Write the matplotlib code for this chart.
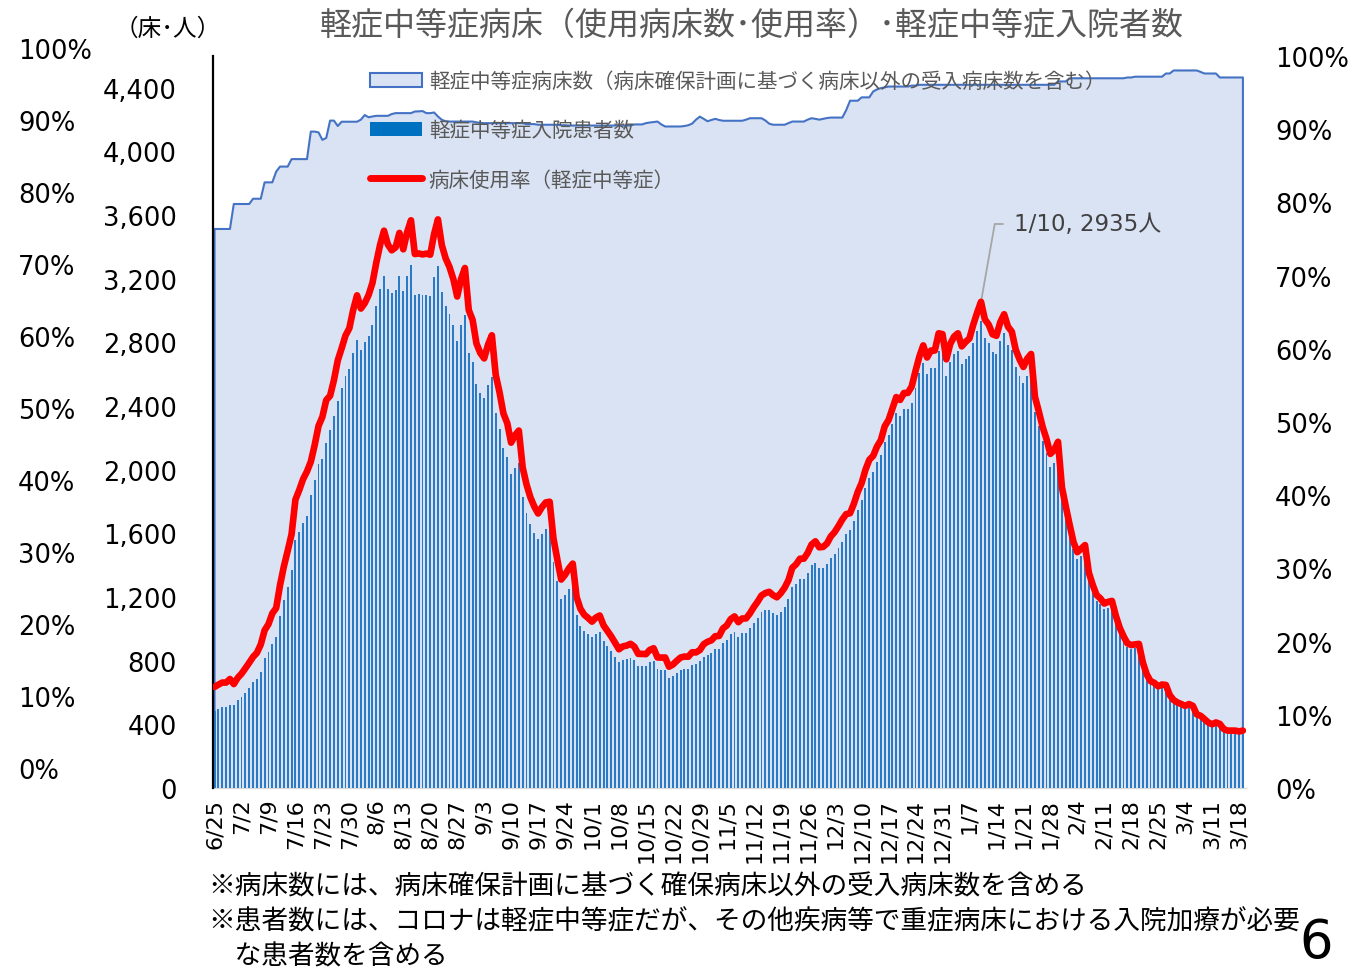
import numpy as np
import matplotlib
matplotlib.use('Agg')
import matplotlib.pyplot as plt
from matplotlib.patches import Patch
from matplotlib.lines import Line2D

# ---------------- data (daily, 6/25 .. 3/19) ----------------
beds = [
    3513, 3513, 3513, 3513, 3513, 3670, 3670, 3670, 3670, 3670,
    3703, 3703, 3703, 3806, 3806, 3806, 3873, 3905, 3905, 3905,
    3952, 3952, 3952, 3952, 3952, 4125, 4125, 4120, 4073, 4085,
    4194, 4194, 4160, 4187, 4187, 4187, 4187, 4187, 4200, 4229,
    4215, 4220, 4224, 4224, 4224, 4224, 4235, 4241, 4241, 4241,
    4241, 4241, 4251, 4252, 4254, 4241, 4241, 4245, 4220, 4199,
    4190, 4188, 4188, 4188, 4188, 4188, 4188, 4188, 4183, 4180,
    4178, 4178, 4178, 4178, 4178, 4178, 4178, 4178, 4178, 4178,
    4178, 4172, 4172, 4172, 4168, 4168, 4168, 4168, 4168, 4168,
    4165, 4165, 4163, 4163, 4163, 4163, 4163, 4163, 4163, 4163,
    4163, 4163, 4163, 4163, 4163, 4163, 4163, 4163, 4163, 4170,
    4170, 4170, 4178, 4182, 4185, 4188, 4170, 4157, 4157, 4157,
    4157, 4157, 4160, 4165, 4175, 4200, 4219, 4205, 4190, 4198,
    4205, 4198, 4193, 4193, 4193, 4193, 4193, 4193, 4200, 4209,
    4209, 4209, 4209, 4195, 4175, 4168, 4168, 4168, 4168, 4178,
    4188, 4188, 4188, 4188, 4200, 4209, 4205, 4200, 4205, 4210,
    4213, 4213, 4213, 4213, 4260, 4319, 4319, 4319, 4340, 4340,
    4340, 4377, 4390, 4398, 4403, 4408, 4408, 4408, 4408, 4408,
    4408, 4414, 4414, 4419, 4419, 4419, 4419, 4419, 4419, 4419,
    4419, 4419, 4419, 4419, 4419, 4419, 4419, 4419, 4419, 4419,
    4419, 4419, 4419, 4419, 4419, 4419, 4419, 4419, 4419, 4419,
    4419, 4419, 4419, 4419, 4419, 4419, 4419, 4419, 4419, 4440,
    4440, 4440, 4460, 4460, 4460, 4460, 4460, 4460, 4460, 4460,
    4460, 4460, 4460, 4460, 4460, 4460, 4460, 4465, 4465, 4470,
    4470, 4470, 4470, 4470, 4470, 4470, 4470, 4490, 4490, 4509,
    4509, 4509, 4509, 4509, 4509, 4509, 4500, 4490, 4490, 4490,
    4490, 4465, 4465, 4465, 4465, 4465, 4465, 4465,
]

patients = [
    485, 496, 506, 506, 523, 521, 552, 573, 600, 628,
    663, 684, 726, 820, 852, 908, 952, 1082, 1182, 1266,
    1370, 1557, 1609, 1668, 1709, 1839, 1933, 2038, 2065, 2165,
    2247, 2337, 2431, 2515, 2588, 2630, 2735, 2818, 2751, 2801,
    2839, 2912, 3032, 3136, 3216, 3136, 3111, 3132, 3216, 3121,
    3220, 3289, 3101, 3105, 3101, 3096, 3090, 3212, 3278, 3115,
    3032, 2981, 2912, 2812, 2912, 2975, 2735, 2678, 2540, 2484,
    2452, 2530, 2584, 2358, 2258, 2138, 2082, 1971, 2013, 2040,
    1829, 1730, 1657, 1605, 1563, 1599, 1626, 1630, 1420, 1301,
    1186, 1213, 1249, 1276, 1086, 1019, 985, 967, 946, 969,
    981, 925, 893, 862, 826, 789, 805, 810, 820, 805,
    764, 764, 764, 789, 799, 747, 743, 741, 689, 701,
    722, 741, 747, 747, 774, 778, 795, 826, 837, 847,
    872, 872, 914, 931, 967, 983, 950, 971, 973, 1004,
    1040, 1071, 1107, 1117, 1119, 1098, 1086, 1109, 1140, 1186,
    1260, 1280, 1312, 1312, 1349, 1400, 1417, 1381, 1385, 1406,
    1448, 1473, 1508, 1546, 1594, 1621, 1678, 1747, 1808, 1887,
    1946, 1986, 2048, 2090, 2176, 2216, 2285, 2354, 2337, 2379,
    2379, 2421, 2515, 2605, 2672, 2599, 2641, 2641, 2745, 2740,
    2588, 2680, 2725, 2745, 2666, 2693, 2714, 2798, 2870, 2935,
    2829, 2797, 2739, 2730, 2812, 2860, 2785, 2755, 2647, 2588,
    2542, 2592, 2620, 2362, 2274, 2180, 2107, 2017, 2040, 2100,
    1825, 1709, 1605, 1500, 1437, 1458, 1480, 1312, 1238, 1176,
    1155, 1124, 1134, 1140, 1050, 977, 925, 883, 872, 877,
    880, 768, 695, 653, 642, 621, 632, 632, 570, 542,
    527, 517, 506, 517, 506, 454, 444, 423, 402, 391,
    402, 391, 360, 350, 350, 350, 345, 350,
]

tick_labels = ['6/25', '7/2', '7/9', '7/16', '7/23', '7/30', '8/6', '8/13', '8/20',
               '8/27', '9/3', '9/10', '9/17', '9/24', '10/1', '10/8', '10/15', '10/22',
               '10/29', '11/5', '11/12', '11/19', '11/26', '12/3', '12/10', '12/17',
               '12/24', '12/31', '1/7', '1/14', '1/21', '1/28', '2/4', '2/11', '2/18',
               '2/25', '3/4', '3/11', '3/18']

left_ticks = [0, 400, 800, 1200, 1600, 2000, 2400, 2800, 3200, 3600, 4000, 4400]
pct_ticks = [0, 10, 20, 30, 40, 50, 60, 70, 80, 90, 100]

peak_day = 199
peak_label = '1/10, 2935人'

title = '軽症中等症病床（使用病床数･使用率）･軽症中等症入院者数'
unit_label = '（床･人）'
legend_labels = ['軽症中等症病床数（病床確保計画に基づく病床以外の受入病床数を含む）',
                 '軽症中等症入院患者数',
                 '病床使用率（軽症中等症）']
notes = ['※病床数には、病床確保計画に基づく確保病床以外の受入病床数を含める',
         '※患者数には、コロナは軽症中等症だが、その他疾病等で重症病床における入院加療が必要',
         '　な患者数を含める']
page_no = '6'

# ---------------- drawing ----------------
CJK = ['Noto Sans CJK JP', 'DejaVu Sans']
LAT = ['DejaVu Sans', 'Noto Sans CJK JP']
plt.rcParams['font.family'] = LAT

W, H = 1350, 970
fig = plt.figure(figsize=(W / 100, H / 100), dpi=100)
fig.patch.set_facecolor('white')

ax = fig.add_axes([213 / W, (H - 789) / H, (1246 - 213) / W, (789 - 57) / H])
days = np.arange(len(patients))
beds_a = np.array(beds, dtype=float)
pat_a = np.array(patients, dtype=float)
rate = pat_a / beds_a * 100

ax.fill_between(days, beds_a, 0, color='#DAE3F3', lw=0, zorder=1)
ax.plot(np.r_[days[0], days, days[-1]], np.r_[0, beds_a, 0],
        color='#4472C4', lw=1.5, zorder=2)
ax.bar(days, pat_a, width=0.5, color='#2A7AC6', lw=0, zorder=3)

ax.set_xlim(-0.4, len(days) - 0.2)
ax.set_ylim(0, 4600)
ax.set_yticks(left_ticks)
ax.set_yticklabels([f'{v:,}' for v in left_ticks], fontsize=18.5)
ax.tick_params(axis='y', length=0, pad=26)
ax.set_xticks(days[::7])
ax.set_xticklabels(tick_labels, rotation=90, fontsize=16)
ax.tick_params(axis='x', length=0, pad=7)
for s in ['top', 'right']:
    ax.spines[s].set_visible(False)
ax.spines['left'].set_color('black')
ax.spines['left'].set_linewidth(1.6)
ax.spines['left'].set_zorder(6)
ax.spines['bottom'].set_color('#D9D9D9')
ax.spines['bottom'].set_linewidth(1.0)

ax2 = ax.twinx()
ax2.plot(days, rate, color='#FF0000', lw=4.8, solid_joinstyle='round',
         solid_capstyle='round', zorder=5)
ax2.set_ylim(0, 100)
ax2.set_yticks(pct_ticks)
ax2.set_yticklabels([f'{v}%' for v in pct_ticks], fontsize=18.5)
ax2.tick_params(axis='y', length=0, pad=21)
for s in ax2.spines.values():
    s.set_visible(False)

# annotation for the peak
ax2.annotate('', xy=(peak_day, rate[peak_day]), xycoords='data',
             xytext=(1003 / W, 1 - 225 / H), textcoords='figure fraction',
             arrowprops=dict(arrowstyle='-', color='#A6A6A6', lw=1.3,
                             shrinkA=0, shrinkB=0,
                             connectionstyle='angle,angleA=0,angleB=80,rad=0'))
fig.text(1014 / W, 1 - 225 / H, peak_label, fontsize=16.5, color='#404040',
         ha='left', va='center', family=LAT)

# legend
handles = [Patch(facecolor='#DAE3F3', edgecolor='#4472C4', lw=1.5),
           Patch(facecolor='#0070C0', edgecolor='none'),
           Line2D([0], [0], color='#FF0000', lw=5, solid_capstyle='round')]
leg = ax2.legend(handles, legend_labels, loc='upper left',
                 bbox_to_anchor=(360 / W, 1 - 61 / H), bbox_transform=fig.transFigure,
                 frameon=False, borderpad=0, handlelength=2.5, handletextpad=0.35,
                 labelspacing=1.32, prop={'family': CJK, 'size': 14.8},
                 labelcolor='#595959')

# titles and texts
fig.text(752 / W, 1 - 26 / H, title, fontsize=23, color='#595959',
         ha='center', va='center', family=CJK)
fig.text(168 / W, 1 - 29 / H, unit_label, fontsize=17, color='black',
         ha='center', va='center', family=CJK)

# stray percentage scale on the far left
for i, v in enumerate(pct_ticks[::-1]):
    fig.text(18 / W, 1 - (52 + 72 * i) / H, f'{v}%', fontsize=18.5,
             ha='left', va='center', family=LAT)

# footnotes
for i, t in enumerate(notes):
    fig.text(208 / W, 1 - (887 + 35 * i) / H, t, fontsize=19.2, color='black',
             ha='left', va='center', family=CJK)
fig.text(1316 / W, 0.001, page_no, fontsize=38, color='black',
         ha='center', va='bottom', family=['Liberation Sans Narrow', 'DejaVu Sans'])

fig.savefig('out.png', dpi=100, facecolor='white')
